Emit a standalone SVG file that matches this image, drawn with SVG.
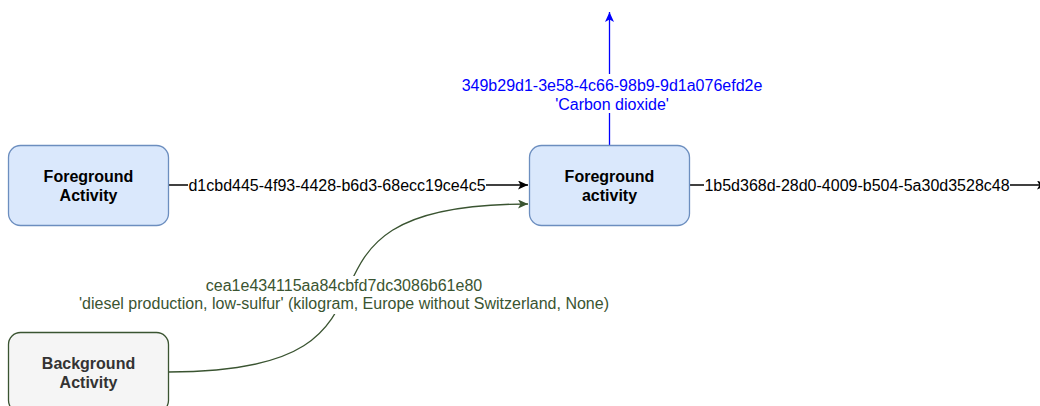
<svg xmlns="http://www.w3.org/2000/svg" width="1040" height="406" viewBox="0 0 1040 406">
<style>
  .fg rect { fill: #dae8fc; stroke: #6c8ebf; stroke-width: 1.3; }
  .bg rect { fill: #f5f5f5; stroke: #3A5431; stroke-width: 1.3; }
  .nodetext { font-family: "Liberation Sans", Arial, Helvetica, sans-serif; font-size: 16px; font-weight: bold; text-anchor: middle; }
  .fg .nodetext { fill: #000000; }
  .bg .nodetext { fill: #333333; }
  .lbl { font-family: "Liberation Sans", Arial, Helvetica, sans-serif; font-size: 16px; text-anchor: middle; }
  .lblbg { fill: #ffffff; }
</style>
<defs>
  <marker id="arrBlack" markerUnits="userSpaceOnUse" markerWidth="12" markerHeight="10" refX="10" refY="4.5" orient="auto" viewBox="0 0 12 10">
    <path d="M0,0 L10,4.5 L0,9 L2.5,4.5 Z" fill="#000000"/>
  </marker>
  <marker id="arrGreen" markerUnits="userSpaceOnUse" markerWidth="12" markerHeight="10" refX="10" refY="4.5" orient="auto" viewBox="0 0 12 10">
    <path d="M0,0 L10,4.5 L0,9 L2.5,4.5 Z" fill="#3A5431"/>
  </marker>
  <marker id="arrBlue" markerUnits="userSpaceOnUse" markerWidth="12" markerHeight="10" refX="10" refY="4.5" orient="auto" viewBox="0 0 12 10">
    <path d="M0,0 L10,4.5 L0,9 L2.5,4.5 Z" fill="#0000ff"/>
  </marker>
</defs>

<g id="connectors">
  <g id="edge-d1cbd445">
    <line x1="168.5" y1="185" x2="528" y2="185" stroke="#000000" stroke-width="1.3" marker-end="url(#arrBlack)"/>
    <rect class="lblbg" x="188" y="176" width="298" height="19"/>
    <text class="lbl" x="337" y="190.5" fill="#000000">d1cbd445-4f93-4428-b6d3-68ecc19ce4c5</text>
  </g>
  <g id="edge-1b5d368d">
    <line x1="689.5" y1="185" x2="1047" y2="185" stroke="#000000" stroke-width="1.3" marker-end="url(#arrBlack)"/>
    <rect class="lblbg" x="704" y="176" width="306" height="19"/>
    <text class="lbl" x="857" y="190.5" fill="#000000">1b5d368d-28d0-4009-b504-5a30d3528c48</text>
  </g>
  <g id="edge-co2">
    <line x1="609.5" y1="145" x2="609.5" y2="12" stroke="#0000ff" stroke-width="1.3" marker-end="url(#arrBlue)"/>
    <rect class="lblbg" x="460" y="74" width="304" height="39"/>
    <text class="lbl" x="612" y="91" fill="#0000ff">349b29d1-3e58-4c66-98b9-9d1a076efd2e</text>
    <text class="lbl" x="612" y="109.5" fill="#0000ff">'Carbon dioxide'</text>
  </g>
  <g id="edge-diesel">
    <path d="M168.5,372 C450,372 246,204 528,204" fill="none" stroke="#3A5431" stroke-width="1.3" marker-end="url(#arrGreen)"/>
    <rect class="lblbg" x="77" y="276" width="534" height="38"/>
    <text class="lbl" x="344" y="291" fill="#3A5431">cea1e434115aa84cbfd7dc3086b61e80</text>
    <text class="lbl" x="344" y="309" fill="#3A5431">'diesel production, low-sulfur' (kilogram, Europe without Switzerland, None)</text>
  </g>
</g>

<g id="node-foreground-1" class="fg">
  <rect x="8.5" y="145.5" width="160" height="80" rx="12" ry="12"/>
  <text class="nodetext" x="88.5" y="181.5">Foreground</text>
  <text class="nodetext" x="88.5" y="200.5">Activity</text>
</g>

<g id="node-foreground-2" class="fg">
  <rect x="529.5" y="145.5" width="160" height="80" rx="12" ry="12"/>
  <text class="nodetext" x="609.5" y="181.5">Foreground</text>
  <text class="nodetext" x="609.5" y="200.5">activity</text>
</g>

<g id="node-background" class="bg">
  <rect x="8.5" y="332.5" width="160" height="80" rx="12" ry="12"/>
  <text class="nodetext" x="88.5" y="368.5">Background</text>
  <text class="nodetext" x="88.5" y="387.5">Activity</text>
</g>
</svg>
